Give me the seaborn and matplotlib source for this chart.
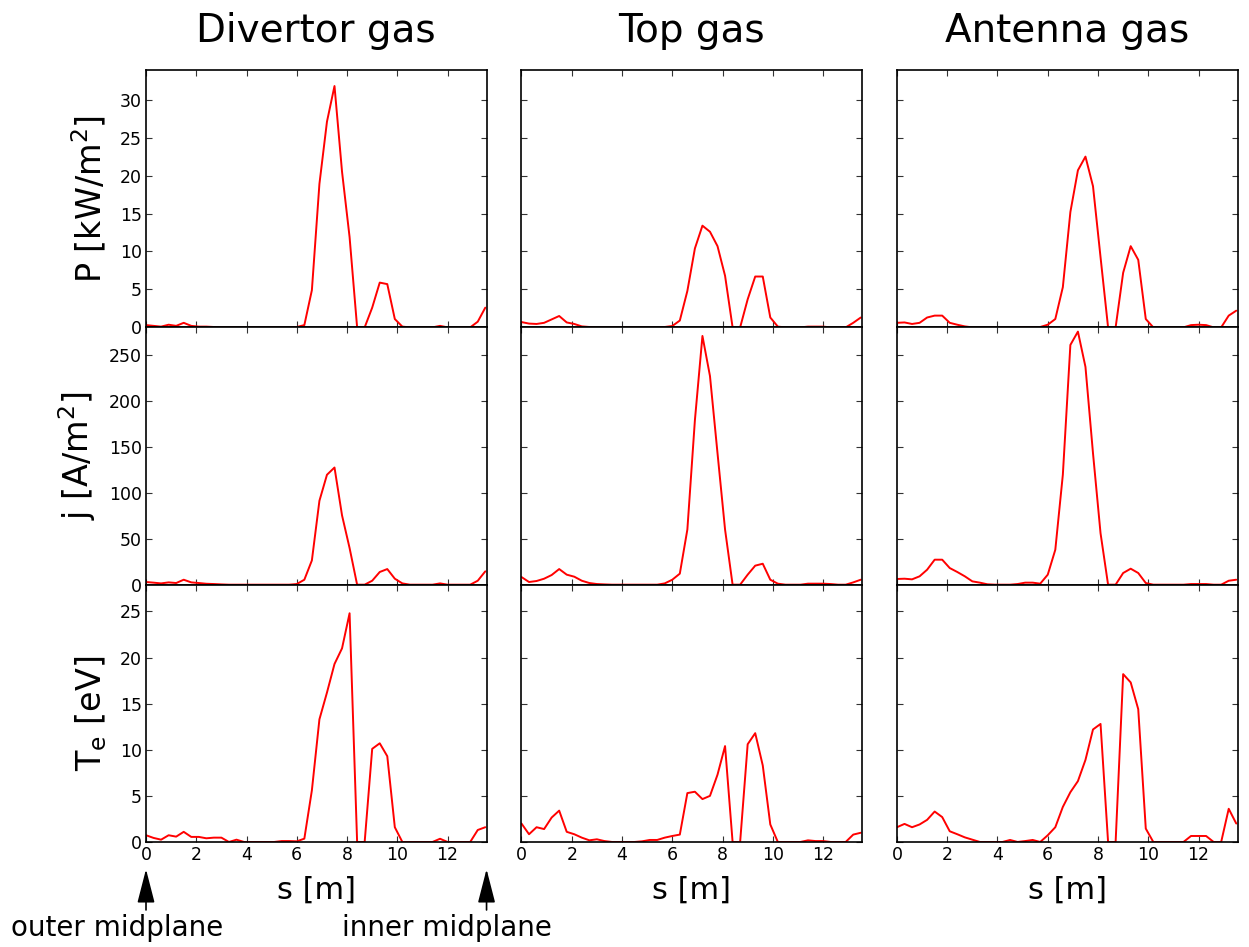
import matplotlib
matplotlib.use("Agg")
import matplotlib.pyplot as plt
import seaborn as sns
import pandas as pd

# ---------------- data ----------------
s = [0.0, 0.3, 0.6, 0.9, 1.2, 1.5, 1.8, 2.1, 2.4, 2.7,
     3.0, 3.3, 3.6, 3.9, 4.2, 4.5, 4.8, 5.1, 5.4, 5.7,
     6.0, 6.3, 6.6, 6.9, 7.2, 7.5, 7.8, 8.1, 8.4, 8.7,
     9.0, 9.3, 9.6, 9.9, 10.2, 10.5, 10.8, 11.1, 11.4, 11.7,
     12.0, 12.3, 12.6, 12.9, 13.2, 13.5]

columns = ["Divertor gas", "Top gas", "Antenna gas"]
row_labels = ["P [kW/m$^2$]", "j [A/m$^2$]", "T$_\\mathrm{e}$ [eV]"]

P_div = [0.3, 0.2, 0.1, 0.35, 0.2, 0.6, 0.2, 0.1, 0.1, 0.05,
         0, 0, 0, 0, 0, 0, 0, 0, 0, 0,
         0.05, 0.3, 4.9, 18.9, 27.1, 31.8, 20.5, 11.9, 0, 0,
         2.6, 5.9, 5.7, 1.1, 0.1, 0, 0, 0, 0, 0.2,
         0, 0, 0, 0, 0.75, 2.6]
j_div = [2.9, 2.2, 1.4, 2.5, 1.8, 5.4, 2.5, 1.8, 1.0, 0.7,
         0.3, 0, 0, 0, 0, 0, 0, 0, 0, 0,
         0.7, 5.4, 26.4, 91.3, 119.6, 127.5, 75.4, 39.9, 0, 0,
         4.3, 13.8, 17.0, 6.5, 1.4, 0, 0, 0, 0, 1.4,
         0, 0, 0, 0, 4.3, 14.5]
Te_div = [0.73, 0.44, 0.25, 0.73, 0.58, 1.1, 0.55, 0.55, 0.4, 0.47,
          0.47, 0, 0.25, 0, 0, 0, 0, 0, 0.1, 0.1,
          0.07, 0.36, 5.6, 13.3, 16.2, 19.3, 21.0, 24.8, 0, 0,
          10.1, 10.7, 9.3, 1.6, 0, 0, 0, 0, 0, 0.35,
          0, 0, 0, 0, 1.3, 1.6]

P_top = [0.7, 0.5, 0.45, 0.6, 1.05, 1.5, 0.65, 0.45, 0.13, 0.05,
         0, 0, 0, 0, 0, 0, 0, 0, 0, 0.05,
         0.18, 0.9, 4.8, 10.4, 13.4, 12.6, 10.7, 6.8, 0, 0,
         3.7, 6.7, 6.7, 1.3, 0.1, 0, 0, 0, 0.1, 0.1,
         0.1, 0, 0, 0, 0.6, 1.3]
j_top = [8.3, 2.9, 4.0, 6.5, 10.5, 17.0, 10.9, 8.7, 4.3, 1.8,
         0.7, 0.3, 0, 0, 0, 0, 0, 0, 0, 1.4,
         5.4, 12.0, 60.0, 179.0, 270.7, 227.0, 143.0, 60.0, 0, 0,
         10.9, 20.7, 22.8, 5.4, 1.1, 0, 0, 0, 1.1, 1.1,
         1.1, 0.7, 0, 0, 2.5, 5.4]
Te_top = [2.0, 0.84, 1.6, 1.4, 2.65, 3.4, 1.1, 0.84, 0.47, 0.18,
          0.29, 0.1, 0, 0, 0, 0, 0.07, 0.22, 0.22, 0.47,
          0.65, 0.8, 5.3, 5.45, 4.65, 5.0, 7.3, 10.4, 0, 0,
          10.6, 11.8, 8.3, 1.9, 0, 0, 0, 0, 0.18, 0.1,
          0.1, 0, 0, 0, 0.8, 1.0]

P_ant = [0.6, 0.65, 0.45, 0.6, 1.3, 1.55, 1.55, 0.6, 0.35, 0.13,
         0, 0, 0, 0, 0, 0, 0, 0.05, 0.05, 0.05,
         0.35, 1.1, 5.3, 15.2, 20.7, 22.5, 18.6, 9.25, 0, 0,
         7.2, 10.7, 8.9, 1.1, 0, 0, 0, 0, 0, 0.3,
         0.35, 0.3, 0, 0, 1.55, 2.2]
j_ant = [6.2, 6.5, 5.8, 9.1, 16.3, 27.2, 27.2, 18.1, 13.8, 9.1,
         3.6, 2.2, 0.4, 0, 0, 0, 0.7, 2.2, 2.2, 1.1,
         10.9, 38.0, 119.6, 260.9, 275.4, 237.0, 143.0, 56.0, 0, 0,
         12.7, 17.4, 12.7, 1.8, 0, 0, 0, 0, 0, 0.7,
         0.7, 0.7, 0, 0, 4.3, 5.4]
Te_ant = [1.6, 1.96, 1.6, 1.9, 2.4, 3.3, 2.7, 1.16, 0.84, 0.5,
          0.25, 0, 0, 0, 0, 0.22, 0, 0.1, 0.22, 0,
          0.73, 1.6, 3.8, 5.4, 6.6, 8.9, 12.2, 12.8, 0, 0,
          18.2, 17.3, 14.4, 1.45, 0, 0, 0, 0, 0, 0.65,
          0.65, 0.65, 0, 0, 3.6, 2.0]

grid = [[P_div, P_top, P_ant],
        [j_div, j_top, j_ant],
        [Te_div, Te_top, Te_ant]]

row_ylim = [(0, 33.9), (0, 280), (0, 27.9)]
row_yticks = [[0, 5, 10, 15, 20, 25, 30],
              [0, 50, 100, 150, 200, 250],
              [0, 5, 10, 15, 20, 25]]
xticks = [0, 2, 4, 6, 8, 10, 12]
xlim = (0, 13.55)

# ---------------- style ----------------
sns.set_style("ticks")
plt.rcParams.update({
    "font.family": ["DejaVu Sans"],
    "text.color": "black",
    "axes.labelcolor": "black",
    "xtick.labelcolor": "black",
    "ytick.labelcolor": "black",
    "xtick.direction": "in",
    "ytick.direction": "in",
    "xtick.top": True,
    "ytick.right": True,
    "xtick.major.size": 4.5,
    "ytick.major.size": 4.5,
    "xtick.major.width": 0.8,
    "ytick.major.width": 0.8,
    "xtick.color": "#333333",
    "ytick.color": "#333333",
    "axes.edgecolor": "black",
    "axes.linewidth": 1.2,
    "xtick.labelsize": 12.5,
    "ytick.labelsize": 12.5,
    "mathtext.default": "regular",
})

fig, axes = plt.subplots(3, 3, figsize=(12.49, 9.47), dpi=100,
                         sharex=True, sharey="row")
fig.subplots_adjust(left=0.1169, right=0.9908, bottom=0.1109, top=0.926,
                    wspace=0.1026, hspace=0.0)

for r in range(3):
    for c in range(3):
        ax = axes[r][c]
        df = pd.DataFrame({"s": s, "v": grid[r][c]})
        sns.lineplot(data=df, x="s", y="v", ax=ax, color="red",
                     linewidth=1.4, estimator=None)
        ax.set_xlim(*xlim)
        ax.set_ylim(*row_ylim[r])
        ax.set_yticks(row_yticks[r])
        ax.set_xticks(xticks)
        ax.set_xlabel("")
        ax.set_ylabel("")
        ax.tick_params(axis="both", which="both", top=True, right=True,
                       direction="in", pad=3)
        if c == 0:
            ax.set_ylabel(row_labels[r], fontsize=24, labelpad=8)
        else:
            ax.tick_params(labelleft=False)
        if r == 2:
            ax.set_xlabel("s [m]", fontsize=22, labelpad=8)
        else:
            ax.tick_params(labelbottom=False)
        if r == 0:
            ax.set_title(columns[c], fontsize=28, pad=20)

# annotations under the first column
ax0 = axes[2][0]
arrow_kw = dict(arrowstyle="-|>,head_length=1.05,head_width=0.27",
                color="black", lw=1.2, mutation_scale=20)
ax0.annotate("", xy=(xlim[0], -0.095), xytext=(xlim[0], -0.275),
             xycoords=("data", "axes fraction"),
             textcoords=("data", "axes fraction"),
             arrowprops=arrow_kw, annotation_clip=False)
ax0.annotate("", xy=(xlim[1], -0.095), xytext=(xlim[1], -0.275),
             xycoords=("data", "axes fraction"),
             textcoords=("data", "axes fraction"),
             arrowprops=arrow_kw, annotation_clip=False)
fig.text(117 / 1249, 19 / 947, "outer midplane", fontsize=20,
         ha="center", va="center")
fig.text(447 / 1249, 19 / 947, "inner midplane", fontsize=20,
         ha="center", va="center")

fig.savefig("out.png", dpi=100)
